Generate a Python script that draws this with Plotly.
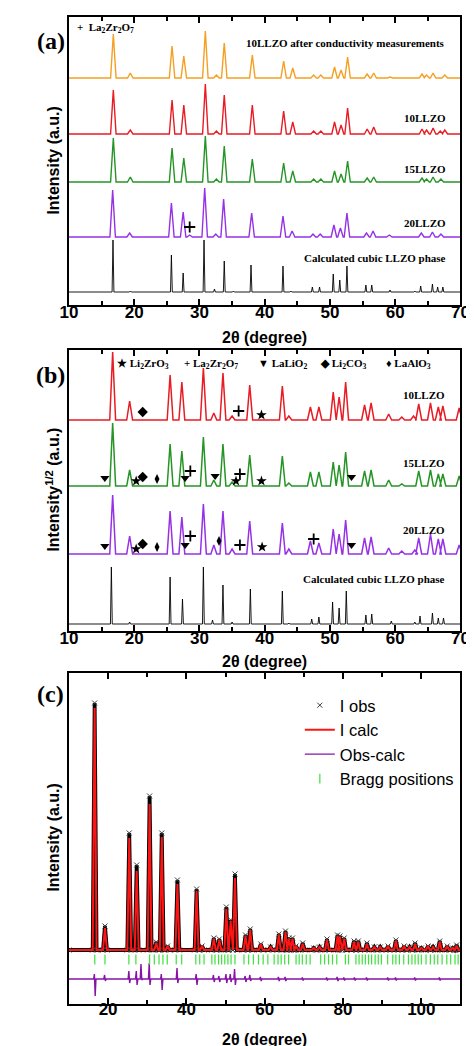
import plotly.graph_objects as go

W, H = 474, 1046

# ---------------- Panel (a) data (intensity a.u., stacked) ----------------
a_orange_base = 227
a_orange_pos = [16.8, 19.4, 25.8, 27.6, 30.9, 32.6, 33.8, 38.1, 42.9, 44.3, 47.5, 48.6, 50.7, 51.7, 52.7, 55.7, 56.7, 59.2, 64.1, 64.8, 65.8, 67.6]
a_orange_int = [44, 5, 32, 22, 47, 3, 35, 23, 17, 10, 3, 3, 11, 8, 21, 4, 5, 1, 4, 3, 5, 3]

a_red_base = 171
a_red_pos = [16.8, 19.4, 25.8, 27.6, 30.9, 32.6, 33.8, 38.1, 42.9, 44.3, 47.5, 48.6, 50.7, 51.7, 52.7, 55.7, 56.7, 64.1, 64.8, 65.8, 66.9, 67.6]
a_red_int = [44, 4, 34, 29, 50, 3, 39, 29, 23, 12, 3, 3, 12, 9, 26, 5, 7, 5, 4, 6, 3, 4]

a_green_base = 123
a_green_pos = [16.8, 19.4, 25.8, 27.6, 30.9, 32.6, 33.8, 38.1, 42.9, 44.3, 47.5, 48.6, 50.7, 51.7, 52.7, 55.7, 56.7, 64.1, 64.8, 65.8, 67.0]
a_green_int = [44, 5, 34, 24, 46, 3, 36, 23, 19, 11, 3, 3, 11, 8, 21, 4, 5, 4, 3, 5, 3]

a_purple_base = 68
a_purple_pos = [16.7, 19.3, 25.7, 27.5, 28.5, 30.8, 32.5, 33.7, 38.0, 42.8, 44.2, 47.4, 48.5, 50.6, 51.6, 52.6, 55.6, 56.6, 59.1, 64.0, 65.7, 67.0]
a_purple_int = [47, 4, 34, 25, 2, 49, 3, 38, 24, 21, 6, 3, 3, 12, 9, 24, 4, 6, 2, 4, 5, 3]

a_calc_base = 13
a_calc_pos = [16.75, 19.4, 25.7, 27.5, 30.7, 32.3, 33.8, 35.2, 37.9, 42.8, 44.0, 47.3, 48.4, 50.5, 51.5, 52.6, 55.5, 56.4, 59.2, 63.0, 63.9, 65.7, 66.5, 67.3]
a_calc_int = [52, 1, 37, 19, 52, 3, 31, 1, 27, 26, 1, 5, 5, 18, 12, 26, 7, 7, 2, 1, 6, 8, 5, 5]

a_mark_x = [28.5]
a_mark_y = [78]

# ---------------- Panel (b) data (sqrt intensity a.u., stacked) ----------------
b_red_base = 211
b_red_pos = [16.7, 19.3, 25.5, 27.3, 30.6, 32.2, 33.6, 35.0, 37.7, 42.7, 43.7, 47.0, 48.3, 50.5, 51.4, 52.4, 55.3, 56.3, 59.0, 61.0, 62.8, 63.6, 65.4, 66.6, 67.3, 69.8]
b_red_int = [68, 19, 45, 38, 52, 7, 47, 4, 35, 34, 4, 13, 13, 28, 23, 38, 15, 17, 6, 3, 4, 16, 17, 13, 14, 12]

b_green_base = 145
b_green_pos = [16.7, 19.3, 25.5, 27.3, 30.6, 32.2, 33.6, 35.0, 37.7, 42.7, 43.7, 47.0, 48.3, 50.5, 51.4, 52.4, 55.3, 56.3, 59.0, 61.0, 63.6, 65.4, 66.6, 67.3, 69.8]
b_green_int = [63, 16, 42, 35, 49, 6, 42, 4, 31, 30, 3, 14, 14, 24, 21, 34, 15, 16, 6, 2, 15, 16, 12, 12, 10]

b_purple_base = 77
b_purple_pos = [16.7, 19.3, 25.5, 27.3, 30.6, 32.2, 33.6, 35.0, 37.7, 42.7, 43.7, 47.0, 48.3, 50.5, 51.4, 52.4, 55.3, 56.3, 59.0, 61.0, 63.0, 63.6, 65.4, 66.6, 67.3, 69.8]
b_purple_int = [59, 18, 43, 37, 50, 9, 43, 5, 33, 31, 5, 13, 11, 25, 20, 34, 16, 17, 6, 3, 4, 16, 20, 15, 15, 9]

b_calc_base = 7
b_calc_pos = [16.5, 19.3, 25.5, 27.4, 30.6, 32.0, 33.6, 35.0, 37.8, 42.7, 43.7, 47.2, 48.3, 50.4, 51.4, 52.5, 55.5, 56.4, 59.4, 63.0, 63.8, 65.7, 66.6, 67.4]
b_calc_int = [57, 2, 47, 25, 57, 4, 39, 2, 35, 33, 1, 5, 7, 22, 16, 33, 9, 10, 3, 2, 8, 11, 6, 6]

# impurity phase markers (position, height in panel b units)
li2zro3_x = [39.5, 20.3, 35.6, 39.5, 20.3, 39.6]
li2zro3_y = [216, 150, 150, 150, 82, 84]
la2zr2o7_x = [36.0, 28.6, 36.2, 28.6, 36.2, 47.5]
la2zr2o7_y = [220, 160, 157, 95, 86, 92]
lalio2_x = [15.5, 27.8, 32.4, 53.3, 15.5, 27.8, 53.3]
lalio2_y = [153, 153, 155, 154, 85, 86, 86]
li2co3_x = [21.3, 21.3, 21.3]
li2co3_y = [219, 154, 87]
laalo3_x = [23.5, 23.5, 33.0]
laalo3_y = [152, 84, 90]

# ---------------- Panel (c) data (Rietveld) ----------------
c_base = 54
c_pos = [16.56, 19.2, 25.4, 27.3, 30.6, 32.3, 33.7, 35.2, 37.7, 42.6, 44.0, 47.0, 48.4, 50.2, 51.3, 52.4,
         55.1, 56.3, 59.0, 61.5, 63.6, 65.3, 66.2, 67.1, 68.0, 69.7, 72.5, 74.0, 75.9, 78.6, 79.2, 80.3,
         82.8, 83.9, 86.1, 88.0, 89.5, 91.5, 93.5, 95.6, 97.0, 98.4, 100.0, 101.7, 103.0, 104.7, 106.6, 108.0, 109.0]
c_obs = [301, 78, 171, 139, 208, 62, 171, 58, 124, 115, 58, 66, 65, 97, 84, 130,
         69, 75, 60, 57, 70, 73, 66, 66, 58, 61, 56, 57, 65, 69, 68, 66,
         63, 63, 61, 57, 57, 58, 64, 58, 57, 61, 56, 58, 57, 63, 58, 56, 59]
c_calc = [296, 76, 166, 133, 200, 61, 167, 58, 120, 113, 58, 65, 64, 95, 83, 126,
          68, 74, 60, 57, 69, 72, 65, 65, 58, 60, 56, 57, 64, 68, 67, 65,
          62, 62, 60, 57, 57, 58, 63, 58, 57, 60, 56, 58, 57, 62, 58, 56, 58]

diff_base = 25
diff_pos = [16.6, 19.2, 25.4, 27.3, 28.5, 30.6, 33.7, 37.7, 42.6, 47.0, 48.4, 50.2, 51.3, 52.4, 55.1, 56.3,
            59.0, 63.6, 65.3, 69.7, 75.9, 78.6, 80.3, 83.0, 86.1, 91.5, 93.5, 98.4, 104.7]
diff_hi = [30, 29, 33, 33, 40, 41, 30, 36, 30, 29, 28, 30, 30, 35, 28, 29,
           27, 27, 27, 26.5, 26.5, 27, 26.5, 26.5, 26.5, 26.5, 26.5, 26.5, 26.5]
diff_lo = [8, 23, 21, 19, 24, 19, 14, 21, 19, 22, 22, 21, 22, 19, 22, 23,
           23, 23, 23, 23.5, 23.5, 23, 23.5, 23.5, 23.5, 23.5, 23.5, 23.5, 23.5]

bragg_level = 44.5
bragg_pos = [16.6, 19.2, 25.3, 27.1, 30.6, 31.8, 33.0, 34.0, 35.1, 37.4, 38.8, 42.4, 43.4, 44.5,
             46.5, 47.3, 48.2, 49.0, 49.8, 50.6, 51.4, 52.4, 54.7, 55.9, 57.1, 58.4, 59.6,
             60.8, 62.4, 63.4, 64.2, 65.1, 66.1, 68.0, 68.8, 69.6, 70.6, 71.6, 74.3, 75.3, 76.3,
             77.3, 78.4, 80.6, 81.4, 83.3, 84.1, 84.9, 85.7, 86.5, 87.3, 88.2, 89.0, 89.8, 91.4,
             92.7, 93.5, 94.4, 95.5, 96.7, 97.6, 98.4, 99.2, 100.0, 101.2, 102.3, 103.3, 104.2,
             105.3, 106.5, 107.5, 108.6, 109.4]


def profile(pos, inten, base, w, xmin, xmax):
    xs, ys = [xmin], [base]
    for p, h in sorted(zip(pos, inten)):
        xs += [p - w, p, p + w]
        ys += [base, base + h, base]
    xs.append(xmax)
    ys.append(base)
    return xs, ys


def profile_abs(pos, tops, base, w, xmin, xmax):
    xs, ys = [xmin], [base]
    for p, t in sorted(zip(pos, tops)):
        xs += [p - w, p, p + w]
        ys += [base, t, base]
    xs.append(xmax)
    ys.append(base)
    return xs, ys


def diff_profile(pos, hi, lo, base, xmin, xmax):
    xs, ys = [xmin], [base]
    for p, a, b in zip(pos, hi, lo):
        xs += [p - 0.3, p - 0.1, p + 0.1, p + 0.3]
        ys += [base, a, b, base]
    xs.append(xmax)
    ys.append(base)
    return xs, ys


ORANGE = "rgb(245,160,35)"
RED = "rgb(232,28,36)"
GREEN = "rgb(38,148,38)"
PURPLE = "rgb(150,50,230)"

fig = go.Figure()

# Panel (a)
for pos, inten, base, col, w, lw in [
    (a_orange_pos, a_orange_int, a_orange_base, ORANGE, 0.42, 1.4),
    (a_red_pos, a_red_int, a_red_base, RED, 0.42, 1.4),
    (a_green_pos, a_green_int, a_green_base, GREEN, 0.42, 1.4),
    (a_purple_pos, a_purple_int, a_purple_base, PURPLE, 0.42, 1.4),
    (a_calc_pos, a_calc_int, a_calc_base, "black", 0.14, 0.9),
]:
    xs, ys = profile(pos, inten, base, w, 10, 70)
    fig.add_trace(go.Scatter(x=xs, y=ys, mode="lines", line=dict(color=col, width=lw),
                             showlegend=False, xaxis="x", yaxis="y"))
fig.add_trace(go.Scatter(x=a_mark_x, y=a_mark_y, mode="markers", showlegend=False,
                         marker=dict(symbol="cross-thin", size=8, line=dict(color="black", width=1.8)),
                         xaxis="x", yaxis="y"))

# Panel (b)
for pos, inten, base, col, w, lw in [
    (b_red_pos, b_red_int, b_red_base, RED, 0.45, 1.5),
    (b_green_pos, b_green_int, b_green_base, GREEN, 0.45, 1.5),
    (b_purple_pos, b_purple_int, b_purple_base, PURPLE, 0.45, 1.5),
    (b_calc_pos, b_calc_int, b_calc_base, "black", 0.14, 0.9),
]:
    xs, ys = profile(pos, inten, base, w, 10, 70)
    fig.add_trace(go.Scatter(x=xs, y=ys, mode="lines", line=dict(color=col, width=lw),
                             showlegend=False, xaxis="x2", yaxis="y2"))

for xs, ys, sym, size in [
    (li2zro3_x, li2zro3_y, "star", 8),
    (lalio2_x, lalio2_y, "triangle-down", 8),
    (li2co3_x, li2co3_y, "diamond", 8),
    (laalo3_x, laalo3_y, "diamond-tall", 7),
]:
    fig.add_trace(go.Scatter(x=xs, y=ys, mode="markers", showlegend=False,
                             marker=dict(symbol=sym, size=size, color="black", line=dict(width=0)),
                             xaxis="x2", yaxis="y2"))
fig.add_trace(go.Scatter(x=la2zr2o7_x, y=la2zr2o7_y, mode="markers", showlegend=False,
                         marker=dict(symbol="cross-thin", size=8, line=dict(color="black", width=1.8)),
                         xaxis="x2", yaxis="y2"))

# Panel (c)
ox, oy = profile_abs(c_pos, c_obs, c_base, 0.5, 10, 110)
cx, cy = profile_abs(c_pos, c_calc, c_base, 0.5, 10, 110)
fig.add_trace(go.Scatter(x=ox, y=oy, mode="lines", line=dict(color="black", width=3.8),
                         showlegend=False, xaxis="x3", yaxis="y3"))
fig.add_trace(go.Scatter(x=ox, y=oy, mode="markers", name="I obs",
                         marker=dict(symbol="x-thin", size=5, line=dict(color="rgb(60,60,60)", width=1)),
                         xaxis="x3", yaxis="y3"))
fig.add_trace(go.Scatter(x=cx, y=cy, mode="lines", name="I calc", line=dict(color="rgb(255,20,20)", width=2),
                         xaxis="x3", yaxis="y3"))
dx, dy = diff_profile(diff_pos, diff_hi, diff_lo, diff_base, 10, 110)
fig.add_trace(go.Scatter(x=dx, y=dy, mode="lines", name="Obs-calc", line=dict(color="rgb(135,20,165)", width=1.4),
                         xaxis="x3", yaxis="y3"))
fig.add_trace(go.Scatter(x=bragg_pos, y=[bragg_level] * len(bragg_pos), mode="markers", name="Bragg positions",
                         marker=dict(symbol="line-ns", size=7, line=dict(color="rgb(60,225,60)", width=1.2)),
                         xaxis="x3", yaxis="y3"))

tickfont = dict(family="Liberation Sans, Arial", size=17, color="black", weight="bold")


def xax(ydom_anchor, rng, dtick, tick0, minor_dtick, standoff):
    return dict(domain=[54 / W, 461 / W], range=rng, anchor=ydom_anchor,
                showline=True, linewidth=2, linecolor="black", mirror="ticks",
                ticks="inside", ticklen=6, tickwidth=2, tickcolor="black",
                dtick=dtick, tick0=tick0, showgrid=False, zeroline=False,
                minor=dict(ticks="inside", ticklen=4, tickwidth=2, tickcolor="black", dtick=minor_dtick,
                           tick0=10, showgrid=False),
                tickfont=tickfont, ticklabelstandoff=standoff)


def yax(top_px, bot_px, rng, anchor):
    return dict(domain=[1 - bot_px / H, 1 - top_px / H], range=rng, anchor=anchor,
                showline=True, linewidth=2, linecolor="black", mirror=True,
                ticks="", showticklabels=False, showgrid=False, zeroline=False)


fig.update_layout(
    width=W, height=H, margin=dict(l=0, r=0, t=0, b=0),
    paper_bgcolor="white", plot_bgcolor="white",
    xaxis=xax("y", [10, 70], 10, 10, 5, -9),
    yaxis=yax(9, 297, [0, 288], "x"),
    xaxis2=xax("y2", [10, 70], 10, 10, 5, -9),
    yaxis2=yax(342, 623, [0, 281], "x2"),
    xaxis3=xax("y3", [10, 110], 20, 20, 10, -11),
    yaxis3=yax(665, 996, [0, 331], "x3"),
    legend=dict(x=294 / W, y=1 - 680 / H, xanchor="left", yanchor="top",
                font=dict(family="Liberation Sans, Arial", size=16.5, color="black"),
                bgcolor="rgba(0,0,0,0)", tracegroupgap=0, borderwidth=0),
)

SERIF = "Liberation Serif, Times New Roman"
SANS = "Liberation Sans, Arial"


def ann(text, px, py, size=11, family=SERIF, xanchor="center", angle=0, bold=True):
    fig.add_annotation(text=text, x=px / W, y=1 - py / H, xref="paper", yref="paper",
                       xanchor=xanchor, yanchor="middle", showarrow=False, textangle=angle,
                       font=dict(family=family, size=size, color="black", weight="bold" if bold else "normal"))


# panel labels
ann("(a)", 35, 33, size=24)
ann("(b)", 35, 367, size=24)
ann("(c)", 35, 686, size=24)

# axis titles
ann("2θ (degree)", 257, 329, size=16, family=SANS)
ann("2θ (degree)", 257, 653, size=16, family=SANS)
ann("2θ (degree)", 257, 1031, size=16, family=SANS)
ann("Intensity (a.u.)", 37, 153, size=16, family=SANS, angle=-90)
ann("Intensity<sup>1/2</sup> (a.u.)", 37, 482, size=16, family=SANS, angle=-90)
ann("Intensity (a.u.)", 37, 830, size=16, family=SANS, angle=-90)

# panel (a) labels
ann("+  La<sub>2</sub>Zr<sub>2</sub>O<sub>7</sub>", 60, 20, xanchor="left")
ann("10LLZO after conductivity measurements", 447, 35, xanchor="right")
ann("10LLZO", 448, 110, xanchor="right")
ann("15LLZO", 448, 161, xanchor="right")
ann("20LLZO", 448, 215, xanchor="right")
ann("Calculated cubic LLZO phase", 448, 250, xanchor="right")

# panel (b) labels
ann("★ Li<sub>2</sub>ZrO<sub>3</sub>", 102, 356, xanchor="left")
ann("+ La<sub>2</sub>Zr<sub>2</sub>O<sub>7</sub>", 172, 356, xanchor="left")
ann("▼ LaLiO<sub>2</sub>", 248, 356, xanchor="left")
ann("◆ Li<sub>2</sub>CO<sub>3</sub>", 313, 356, xanchor="left")
ann("♦ LaAlO<sub>3</sub>", 382, 356, xanchor="left")
ann("10LLZO", 447, 387, xanchor="right")
ann("15LLZO", 447, 455, xanchor="right")
ann("20LLZO", 447, 522, xanchor="right")
ann("Calculated cubic LLZO phase", 447, 571, xanchor="right")

fig.write_html("out.html")
